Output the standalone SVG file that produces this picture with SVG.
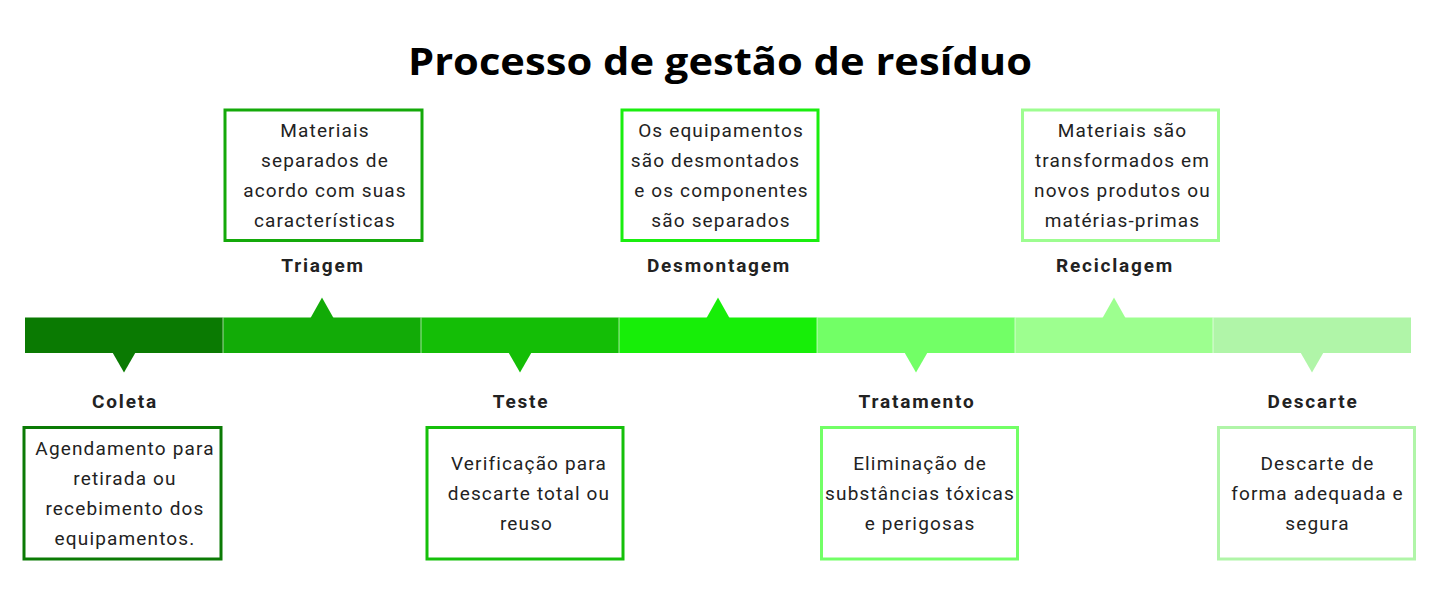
<svg xmlns="http://www.w3.org/2000/svg" width="1440" height="600" viewBox="0 0 1440 600">
  <style>
    .title { font-family: "Open Sans", Lato, "Liberation Sans", sans-serif; font-weight: 700; font-size: 38px; fill: #000; text-anchor: middle; }
    .label { font-family: Roboto, "Liberation Sans", sans-serif; font-weight: 700; font-size: 19px; fill: #222; text-anchor: middle; letter-spacing: 1.8px; }
    .body { font-family: Roboto, "Liberation Sans", sans-serif; font-weight: 400; font-size: 19px; fill: #222; text-anchor: middle; letter-spacing: 1.15px; }
    .box { fill: #fff; stroke-width: 3; }
    .sep { stroke: #ffffff; stroke-opacity: 0.6; stroke-width: 1; }
  </style>
  <rect width="1440" height="600" fill="#fff"/>
  <text class="title" x="720" y="75" textLength="624" lengthAdjust="spacingAndGlyphs">Processo de gestão de resíduo</text>

  <g id="timeline">
    <rect x="25" y="317.5" width="198" height="35.5" fill="#0a7a02"/>
    <rect x="223" y="317.5" width="198" height="35.5" fill="#12ab07"/>
    <rect x="421" y="317.5" width="198" height="35.5" fill="#14be06"/>
    <rect x="619" y="317.5" width="198" height="35.5" fill="#17ee08"/>
    <rect x="817" y="317.5" width="198" height="35.5" fill="#72ff66"/>
    <rect x="1015" y="317.5" width="198" height="35.5" fill="#9dff8f"/>
    <rect x="1213" y="317.5" width="198" height="35.5" fill="#b0f5a8"/>
    <line class="sep" x1="223" y1="317.5" x2="223" y2="353"/>
    <line class="sep" x1="421" y1="317.5" x2="421" y2="353"/>
    <line class="sep" x1="619" y1="317.5" x2="619" y2="353"/>
    <line class="sep" x1="817" y1="317.5" x2="817" y2="353"/>
    <line class="sep" x1="1015" y1="317.5" x2="1015" y2="353"/>
    <line class="sep" x1="1213" y1="317.5" x2="1213" y2="353"/>
  </g>

  <g id="connectors">
    <polygon points="112.5,352.5 135.5,352.5 124,372.5" fill="#0a7a02"/>
    <polygon points="310.5,318 333.5,318 322,297.5" fill="#12ab07"/>
    <polygon points="508.5,352.5 531.5,352.5 520,372.5" fill="#14be06"/>
    <polygon points="706.5,318 729.5,318 718,297.5" fill="#17ee08"/>
    <polygon points="904.5,352.5 927.5,352.5 916,372.5" fill="#72ff66"/>
    <polygon points="1102.5,318 1125.5,318 1114,297.5" fill="#9dff8f"/>
    <polygon points="1300.5,352.5 1323.5,352.5 1312,372.5" fill="#b0f5a8"/>
  </g>

  <g id="coleta">
    <text class="label" x="125" y="408">Coleta</text>
    <rect class="box" x="24" y="427.5" width="197" height="131.5" stroke="#0b7a05"/>
    <text class="body" x="125" y="455">Agendamento para</text>
    <text class="body" x="125" y="485">retirada ou</text>
    <text class="body" x="125" y="515">recebimento dos</text>
    <text class="body" x="125" y="545">equipamentos.</text>
  </g>

  <g id="triagem">
    <rect class="box" x="225" y="110" width="197" height="130.5" stroke="#14a90a"/>
    <text class="body" x="325" y="137">Materiais</text>
    <text class="body" x="325" y="167">separados de</text>
    <text class="body" x="325" y="197">acordo com suas</text>
    <text class="body" x="325" y="227">características</text>
    <text class="label" x="323" y="272">Triagem</text>
  </g>

  <g id="teste">
    <text class="label" x="521" y="408">Teste</text>
    <rect class="box" x="427" y="427.5" width="196" height="131.5" stroke="#15c00a"/>
    <text class="body" x="529" y="470">Verificação para</text>
    <text class="body" x="529" y="500">descarte total ou</text>
    <text class="body" x="526.5" y="530">reuso</text>
  </g>

  <g id="desmontagem">
    <rect class="box" x="622" y="110" width="196" height="130.5" stroke="#1aee0f"/>
    <text class="body" x="721" y="137">Os equipamentos</text>
    <text class="body" x="715.5" y="167">são desmontados</text>
    <text class="body" x="721.5" y="197">e os componentes</text>
    <text class="body" x="721" y="227">são separados</text>
    <text class="label" x="719" y="272">Desmontagem</text>
  </g>

  <g id="tratamento">
    <text class="label" x="917" y="408">Tratamento</text>
    <rect class="box" x="821.5" y="427.5" width="196" height="131.5" stroke="#72ff66"/>
    <text class="body" x="920" y="470">Eliminação de</text>
    <text class="body" x="920" y="500">substâncias tóxicas</text>
    <text class="body" x="920" y="530">e perigosas</text>
  </g>

  <g id="reciclagem">
    <rect class="box" x="1022.5" y="110" width="196" height="130.5" stroke="#9dfd90"/>
    <text class="body" x="1122.5" y="137">Materiais são</text>
    <text class="body" x="1122.5" y="167">transformados em</text>
    <text class="body" x="1122.5" y="197">novos produtos ou</text>
    <text class="body" x="1122.5" y="227">matérias-primas</text>
    <text class="label" x="1115" y="272">Reciclagem</text>
  </g>

  <g id="descarte">
    <text class="label" x="1313" y="408">Descarte</text>
    <rect class="box" x="1218.5" y="427.5" width="196" height="131.5" stroke="#b0f5a8"/>
    <text class="body" x="1317.5" y="470">Descarte de</text>
    <text class="body" x="1317.5" y="500">forma adequada e</text>
    <text class="body" x="1317.5" y="530">segura</text>
  </g>
</svg>
